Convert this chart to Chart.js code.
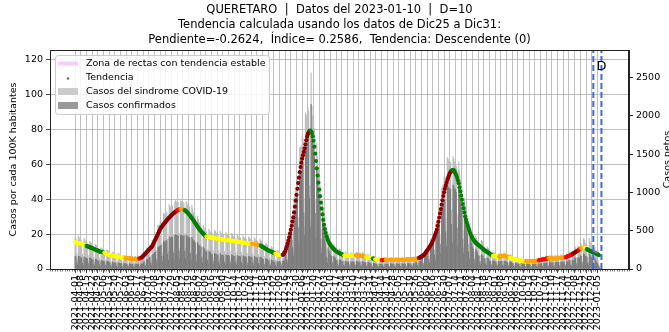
<!DOCTYPE html>
<html>
<head>
<meta charset="utf-8">
<script src="https://cdn.jsdelivr.net/npm/chart.js@4.4.1/dist/chart.umd.min.js"></script>
<style>
  html, body { margin: 0; padding: 0; background: #fff; overflow: hidden; }
  canvas { display: block; }
</style>
</head>
<body>
<canvas id="chart" width="669" height="332"></canvas>
<script>
// day 0 = 2021-04-01
const titleLines = [
  'QUERETARO  |  Datos del 2023-01-10  |  D=10',
  'Tendencia calculada usando los datos de Dic25 a Dic31:',
  'Pendiente=-0.2624,  Índice= 0.2586,  Tendencia: Descendente (0)'
];
const leftAxisTitle = 'Casos por cada 100K habitantes';
const rightAxisTitle = 'Casos netos';
const legendLabels = ['Zona de rectas con tendencia estable', 'Tendencia', 'Casos del sindrome COVID-19', 'Casos confirmados'];

const tickLabels = [
  '2021-04-01','2021-04-08','2021-04-15','2021-04-22','2021-04-29','2021-05-06','2021-05-13','2021-05-20','2021-05-27',
  '2021-06-03','2021-06-10','2021-06-17','2021-06-24','2021-07-01','2021-07-08','2021-07-15','2021-07-22','2021-07-29',
  '2021-08-05','2021-08-12','2021-08-19','2021-08-26','2021-09-02','2021-09-09','2021-09-16','2021-09-23','2021-09-30',
  '2021-10-07','2021-10-14','2021-10-21','2021-10-28','2021-11-04','2021-11-11','2021-11-18','2021-11-25','2021-12-02',
  '2021-12-09','2021-12-16','2021-12-23','2021-12-30','2022-01-06','2022-01-13','2022-01-20','2022-01-27','2022-02-03',
  '2022-02-10','2022-02-17','2022-02-24','2022-03-03','2022-03-10','2022-03-17','2022-03-24','2022-03-31','2022-04-07',
  '2022-04-14','2022-04-21','2022-04-28','2022-05-05','2022-05-12','2022-05-19','2022-05-26','2022-06-02','2022-06-09',
  '2022-06-16','2022-06-23','2022-06-30','2022-07-07','2022-07-14','2022-07-21','2022-07-28','2022-08-04','2022-08-11',
  '2022-08-18','2022-08-25','2022-09-01','2022-09-08','2022-09-15','2022-09-22','2022-09-29','2022-10-06','2022-10-13',
  '2022-10-20','2022-10-27','2022-11-03','2022-11-10','2022-11-17','2022-11-24','2022-12-01','2022-12-08','2022-12-15',
  '2022-12-22','2022-12-29','2023-01-05'
];

// tendencia (casos por 100K), un valor por dia
const trendValues = [
  15.3,15.2,15.1,15.0,14.9,14.8,14.7,14.6,14.4,14.2,14.0,13.9,13.7,13.5,
  13.3,13.1,12.9,12.7,12.5,12.3,12.1,11.9,11.7,11.5,11.3,11.1,10.9,10.7,10.5,10.3,10.1,9.9,9.8,9.7,9.6,9.5,
  9.3,9.1,8.9,8.7,8.5,8.3,8.1,8.0,7.9,7.8,7.7,7.6,7.5,7.4,7.3,7.2,7.1,7.0,6.9,6.8,6.7,6.6,6.5,6.4,6.3,6.3,
  6.2,6.2,6.1,6.1,6.0,6.0,6.0,5.9,5.9,5.9,5.8,5.8,5.8,5.8,5.8,5.8,5.9,
  6.0,6.1,6.3,
  6.6,7.0,7.5,8.0,8.5,9.0,9.5,10.0,10.5,11.0,11.5,12.0,12.5,13.1,14.0,15.0,16.0,17.0,18.0,19.0,20.0,21.0,22.0,
  22.9,23.7,24.4,25.0,25.6,26.2,26.8,27.4,28.0,28.5,29.0,29.5,30.0,30.5,31.0,31.4,31.8,32.2,32.6,33.0,33.3,
  33.6,33.9,34.1,34.3,
  34.4,34.4,34.3,34.2,34.0,
  33.8,33.5,33.1,32.6,32.1,31.6,31.0,30.4,29.8,29.2,28.5,27.8,27.1,26.4,25.7,25.0,24.3,23.6,
  23.0,22.4,21.8,21.2,20.7,20.2,19.7,19.2,18.8,
  18.6,18.5,18.4,18.3,18.2,18.1,18.0,17.9,17.9,17.8,17.7,17.6,17.6,17.5,17.4,17.3,17.3,17.2,17.1,17.0,17.0,16.9,
  16.8,16.7,16.7,16.6,16.5,16.5,16.4,16.3,16.3,16.2,
  16.1,16.0,16.0,15.9,15.8,15.7,15.7,15.6,15.5,15.4,15.4,15.3,15.2,15.1,15.1,15.0,14.9,14.9,14.8,14.7,14.7,14.6,14.6,14.5,
  14.4,14.3,14.3,14.2,14.1,14.0,14.0,13.9,13.8,13.7,13.6,
  13.4,13.1,12.8,12.5,12.2,11.9,11.6,11.3,11.0,10.7,10.5,10.3,10.1,9.9,9.7,9.5,9.3,9.1,
  8.9,8.7,8.5,8.3,8.1,8.0,7.9,7.9,8.0,
  8.1,8.5,9.2,10.2,11.5,13.0,14.6,16.3,18.2,20.3,22.5,24.8,27.2,29.6,32.5,35.8,39.2,42.6,46.0,49.3,
  52.5,55.6,58.5,61.0,63.3,65.3,67.2,69.3,71.6,73.9,75.9,77.4,78.5,79.3,
  79.4,79.0,78.0,76.2,73.6,70.2,66.2,62.0,57.8,53.6,49.6,45.6,41.8,38.1,34.6,31.3,28.2,25.4,22.9,20.7,18.8,
  17.3,16.1,15.1,14.3,13.6,13.0,12.4,11.9,11.4,11.0,10.6,10.2,9.9,9.6,9.3,9.0,8.8,8.6,8.4,8.2,8.0,
  7.9,7.8,7.7,7.7,7.6,7.6,7.6,7.6,7.6,7.7,7.7,7.7,7.8,7.8,
  7.8,7.8,7.8,7.8,7.8,7.7,7.7,7.6,7.5,7.4,7.3,7.2,7.0,
  6.9,6.8,6.7,6.6,6.5,6.4,6.3,6.2,
  6.0,5.9,5.7,
  5.6,5.5,5.4,5.3,5.2,5.2,5.1,5.1,
  5.1,5.1,5.1,5.2,5.2,
  5.2,5.2,5.2,5.3,5.3,5.3,5.3,5.3,5.3,5.3,5.3,5.3,5.3,5.3,5.3,5.3,5.3,5.3,5.3,5.3,
  5.3,5.3,5.3,5.3,5.3,5.4,5.4,5.4,5.4,5.4,5.5,5.5,5.5,5.6,5.6,5.7,5.7,5.8,5.9,6.0,6.1,
  6.3,6.5,6.8,7.1,7.4,7.7,8.1,8.6,9.2,9.8,10.5,11.2,11.9,12.6,13.3,14.1,14.9,16.0,17.2,18.5,19.8,
  21.1,22.5,24.8,27.1,29.5,31.9,34.4,36.9,39.4,41.9,44.0,46.0,47.8,49.5,51.1,52.5,53.7,54.8,55.7,56.3,
  56.7,56.8,56.6,56.0,55.0,53.8,52.4,50.8,49.2,46.9,44.5,42.1,39.7,37.3,34.9,32.5,30.2,28.3,26.6,25.0,
  23.5,22.1,20.8,19.6,18.6,17.7,16.9,16.2,15.6,15.1,14.6,14.2,13.9,13.5,13.1,12.7,12.3,11.9,11.5,11.1,
  10.7,10.4,10.1,9.8,9.5,9.2,8.9,8.5,8.1,7.8,
  7.6,7.5,7.4,7.3,7.2,7.2,7.1,7.1,
  7.1,7.1,7.2,7.3,7.4,7.5,7.5,7.5,7.4,7.3,7.1,6.9,6.7,
  6.5,6.3,6.1,5.9,5.8,5.6,5.5,5.4,5.3,5.2,5.1,5.0,4.9,4.8,4.8,4.7,4.7,4.6,4.6,4.6,
  4.5,4.5,4.5,4.5,4.5,4.5,4.5,4.5,4.5,4.6,4.6,4.6,4.7,4.7,4.8,4.9,
  5.0,5.1,5.2,5.3,5.4,5.5,5.6,5.7,5.8,5.9,6.0,6.1,
  6.1,6.1,6.1,6.0,6.0,6.0,6.0,6.0,6.0,6.1,6.1,6.1,6.2,6.2,6.3,6.3,6.4,6.4,6.5,6.6,6.7,
  6.8,7.0,7.2,7.4,7.6,7.8,8.0,8.2,8.5,
  8.8,9.1,9.4,9.7,10.0,10.3,10.6,
  10.9,11.2,11.5,
  11.7,11.9,12.0,12.0,
  12.0,11.9,11.7,
  11.4,11.1,10.8,10.6,10.4,10.2,10.0,9.8,9.6,9.4,9.2,9.0,8.8,8.5,8.2,7.9
];

// color de cada tramo de la tendencia: [clave, numero de dias]
const trendColorRuns = [
  ['Y',14],['G',22],['Y',26],['O',17],['R',3],['D',44],['R',4],['O',5],['G',27],['Y',56],['O',11],['G',18],
  ['Y',9],['D',34],['G',42],['Y',14],['O',13],['Y',8],['G',3],['Y',8],['R',5],['O',41],['D',41],['G',50],
  ['Y',8],['O',13],['Y',20],['O',16],['R',12],['O',21],['R',9],['D',7],['R',3],['O',4],['Y',3],['G',16]
];
const trendPalette = { Y: '#ffff00', G: '#008000', D: '#8b0000', R: '#ff0000', O: '#ffa500' };

// casos netos diarios (semanas de jueves a miercoles)
const sindromeBars = [
  410,395,205,120,430,410,395, 380,365,190,110,400,380,365, 345,335,175,100,360,345,335, 310,295,155,90,320,310,295,
  270,260,135,80,280,270,260, 245,235,120,70,255,245,235, 215,205,105,60,220,215,205, 195,185,95,55,200,195,185,
  175,170,90,50,180,175,170, 165,155,80,50,170,165,155, 160,150,80,45,165,160,150, 165,160,85,50,175,165,160,
  205,210,115,70,270,275,275, 300,300,165,100,375,380,395, 435,445,245,150,570,575,575, 625,620,335,200,730,715,700,
  750,735,390,230,840,820,800, 845,825,435,260,880,900,870, 880,870,465,275,890,880,860, 870,860,460,270,880,860,830,
  840,810,415,240,830,780,730, 740,690,350,200,690,645,605, 610,570,290,165,575,540,505, 515,485,255,145,520,495,475,
  490,470,245,145,510,490,470, 470,455,235,140,495,470,455, 455,440,230,135,475,455,440, 445,425,225,130,465,445,425,
  430,410,215,125,445,430,410, 415,400,210,120,435,415,400, 405,390,205,120,420,405,390, 390,375,195,115,410,390,375,
  375,360,190,110,390,375,360, 325,310,165,95,340,325,310, 280,270,140,80,295,280,270, 240,230,120,70,250,240,230,
  220,205,110,65,230,230,240, 280,300,180,115,465,495,530, 615,650,375,235,925,975,1025, 1165,1205,675,420,1585,1595,1600,
  1730,1710,920,555,2040,2015,1990, 2110,2060,1090,640,2560,2130,2000, 2010,1840,905,495,1645,1465,1300,
  1245,1095,520,275,890,770,665, 625,540,260,140,460,410,375, 370,340,170,95,325,300,280, 255,245,125,75,265,255,245,
  215,205,110,65,225,215,205, 205,200,105,60,215,205,200, 215,205,105,60,220,215,205, 210,195,100,60,220,210,195,
  185,180,95,55,195,185,180, 165,155,80,50,170,165,155, 140,135,70,40,150,140,135, 145,135,70,40,145,140,135,
  145,140,75,40,150,145,140, 145,140,70,45,150,145,140, 145,140,75,40,150,145,135, 150,140,75,45,155,150,140,
  155,145,75,45,160,155,145, 160,155,80,50,180,175,180, 195,195,105,65,245,250,255, 285,295,165,100,380,385,390,
  435,450,255,160,600,615,650, 740,775,435,275,1050,1075,1100, 1200,1205,655,395,1455,1435,1405,
  1400,1390,770,455,1470,1440,1400, 1380,1340,715,405,1400,1280,1165, 1150,1040,510,280,925,825,740,
  725,655,320,175,595,535,485, 485,445,220,125,430,400,370, 355,345,180,105,375,360,345, 275,265,140,80,290,275,265,
  215,205,105,60,220,215,205, 195,185,95,55,200,195,185, 205,195,105,60,215,205,195, 185,175,90,55,190,185,175,
  150,145,75,45,155,150,145, 130,125,65,40,135,130,125, 125,120,60,35,130,125,120, 120,115,60,35,130,120,115,
  130,125,65,40,135,130,125, 150,145,75,45,155,150,145, 170,160,85,50,175,170,160, 175,170,90,50,180,175,170,
  180,175,90,55,190,180,175, 190,185,95,55,200,190,185, 225,215,115,65,235,225,215, 290,280,145,85,300,290,280,
  350,330,165,95,400,380,340, 330,310,150,90,400,360,320, 300,260,130,75,280,220,180, 150,110,50,30
];
const confirmadosBars = [
  165,160,80,50,170,165,160, 150,145,75,45,160,150,145, 140,135,70,40,145,140,135, 125,120,60,35,130,125,120,
  110,105,55,30,110,110,105, 100,95,50,30,100,100,95, 85,80,45,25,90,85,80, 80,75,40,20,80,80,75,
  70,70,35,20,70,70,70, 65,60,35,20,70,65,60, 65,60,30,20,65,65,60, 65,65,35,20,70,65,65,
  90,95,50,30,120,125,125, 150,150,80,50,185,190,195, 215,220,120,75,285,285,290, 310,310,165,100,365,355,350,
  375,365,195,115,420,410,400, 420,410,215,130,440,450,435, 440,430,230,135,445,440,430, 435,430,230,135,440,430,415,
  420,405,205,120,415,390,365, 370,345,175,100,345,320,300, 305,285,145,80,285,270,250, 230,220,115,65,235,225,215,
  195,190,100,60,205,195,190, 190,180,95,55,200,190,180, 180,175,90,55,190,180,175, 180,170,90,50,185,180,170,
  170,165,85,50,180,170,165, 165,160,85,50,175,165,160, 160,155,80,45,170,160,155, 155,150,80,45,165,155,150,
  150,145,75,45,155,150,145, 130,125,65,40,135,130,125, 110,110,55,35,120,110,110, 95,90,50,30,100,95,90,
  100,90,50,30,105,105,110, 195,210,125,80,325,345,370, 460,490,280,175,695,730,770, 930,965,540,335,1270,1275,1280,
  1385,1370,735,445,1630,1610,1590, 1795,1750,925,545,2150,1810,1700, 1610,1470,725,395,1315,1170,1040,
  935,820,390,205,670,580,500, 375,325,155,85,275,245,225, 185,170,85,50,165,150,140, 115,110,55,35,120,115,110,
  95,95,50,30,100,95,95, 90,90,45,25,95,90,90, 95,90,50,30,100,95,90, 95,90,45,25,100,95,90,
  85,80,40,25,85,85,80, 75,70,35,20,75,75,70, 65,60,30,20,65,65,60, 65,60,30,20,65,65,60,
  65,65,35,20,70,65,65, 65,65,30,20,70,65,65, 65,65,35,20,70,65,60, 70,65,35,20,70,70,65,
  70,65,35,20,70,70,65, 90,85,45,25,100,95,100, 135,135,75,45,170,175,180, 215,220,125,75,285,290,295,
  325,340,190,120,450,460,490, 555,580,325,205,790,805,825, 900,905,490,295,1090,1075,1055,
  1050,1045,580,340,1100,1080,1050, 1035,1005,535,305,1050,960,875, 860,780,385,210,695,620,555,
  510,460,225,125,415,375,340, 290,265,130,75,260,240,220, 180,170,90,55,185,180,170, 140,130,70,40,145,140,130,
  105,100,55,30,110,105,100, 95,95,50,30,100,95,95, 100,100,50,30,105,100,100, 90,90,45,25,95,90,90,
  75,70,40,20,80,75,70, 65,65,35,20,70,65,65, 60,60,30,20,65,60,60, 60,55,30,15,65,60,55,
  65,60,35,20,70,65,60, 75,70,40,20,80,75,70, 85,80,40,25,90,85,80, 85,85,45,25,90,85,85,
  90,85,45,25,95,90,85, 95,90,50,30,100,95,90, 115,110,55,35,120,115,110, 145,140,70,40,150,145,140,
  175,165,85,50,200,190,170, 165,155,75,45,200,180,160, 150,130,65,35,140,110,90, 70,50,25,15
];

const zonaDays = [639, 645];
const zonaValues = [10.4, 9.7];
const markerDays = [639, 649];   // 2022-12-31 y 2023-01-10
const markerLabel = 'D';

const LEFT_MAX = 125.7;
const RIGHT_MAX = 2861;
const FONT = '"DejaVu Sans", sans-serif';

const trendColors = [];
trendColorRuns.forEach(([k, n]) => { for (let i = 0; i < n; i++) trendColors.push(trendPalette[k]); });

const overlay = {
  id: 'overlay',
  afterDatasetsDraw(chart) {
    const { ctx, chartArea: a, scales } = chart;
    ctx.save();
    // dashed markers
    ctx.strokeStyle = '#4169e1';
    ctx.lineWidth = 2;
    ctx.setLineDash([6, 3]);
    markerDays.forEach(d => {
      const x = scales.x.getPixelForValue(d);
      ctx.beginPath(); ctx.moveTo(x, a.bottom); ctx.lineTo(x, a.top); ctx.stroke();
    });
    ctx.setLineDash([]);
    ctx.fillStyle = '#000';
    ctx.font = '13px ' + FONT;
    ctx.textAlign = 'center'; ctx.textBaseline = 'top';
    ctx.fillText(markerLabel, scales.x.getPixelForValue(markerDays[1]), a.top + 10);

    // small ticks along the bottom axis
    ctx.strokeStyle = '#222'; ctx.lineWidth = 0.6;
    for (let d = scales.x.min; d <= scales.x.max; d += 3) {
      const x = Math.round(scales.x.getPixelForValue(d)) + 0.5;
      ctx.beginPath(); ctx.moveTo(x, a.bottom); ctx.lineTo(x, a.bottom + 2.5); ctx.stroke();
    }
    ctx.restore();
  },
  afterDraw(chart) {
    const { ctx, chartArea: a } = chart;
    ctx.save();
    // frame
    ctx.strokeStyle = '#222'; ctx.lineWidth = 1;
    ctx.strokeRect(a.left + 0.5, a.top + 0.5, a.right - a.left - 1, a.bottom - a.top);

    // title
    ctx.fillStyle = '#000';
    ctx.font = '11.5px ' + FONT;
    ctx.textAlign = 'center'; ctx.textBaseline = 'middle';
    const cx = (a.left + a.right) / 2;
    titleLines.forEach((t, i) => ctx.fillText(t, cx, 10 + i * 15));

    // right axis title (bottom to top)
    ctx.save();
    ctx.translate(663, (a.top + a.bottom) / 2);
    ctx.rotate(-Math.PI / 2);
    ctx.font = '9.5px ' + FONT;
    ctx.textBaseline = 'top';
    ctx.fillText(rightAxisTitle, 0, 0);
    ctx.restore();

    // legend
    const lx = 55.5, ly = 55.5, lw = 214, lh = 59;
    ctx.beginPath();
    ctx.roundRect(lx, ly, lw, lh, 3);
    ctx.fillStyle = 'rgba(255,255,255,0.85)';
    ctx.fill();
    ctx.strokeStyle = '#cccccc'; ctx.lineWidth = 1;
    ctx.stroke();
    const rows = [63.5, 77.5, 91.5, 105.5];
    ctx.strokeStyle = 'rgba(238,130,238,0.4)'; ctx.lineWidth = 4;
    ctx.beginPath(); ctx.moveTo(58, rows[0]); ctx.lineTo(78, rows[0]); ctx.stroke();
    ctx.fillStyle = '#666';
    ctx.beginPath(); ctx.arc(68, rows[1] + 1, 1.2, 0, Math.PI * 2); ctx.fill();
    ctx.fillStyle = '#cccccc'; ctx.fillRect(58, rows[2] - 3.5, 20, 7);
    ctx.fillStyle = '#999999'; ctx.fillRect(58, rows[3] - 3.5, 20, 7);
    ctx.fillStyle = '#000';
    ctx.font = '9.5px ' + FONT;
    ctx.textAlign = 'left'; ctx.textBaseline = 'middle';
    legendLabels.forEach((t, i) => ctx.fillText(t, 86, rows[i]));
    ctx.restore();
  }
};

new Chart(document.getElementById('chart'), {
  type: 'bar',
  data: {
    datasets: [
      {
        type: 'line',
        data: zonaDays.map((d, i) => ({ x: d, y: zonaValues[i] })),
        borderColor: 'rgba(238,130,238,0.45)',
        borderWidth: 3,
        pointRadius: 0,
        yAxisID: 'y',
        order: -1
      },
      {
        type: 'line',
        data: trendValues.map((v, i) => ({ x: i, y: v })),
        showLine: false,
        pointRadius: 2.1,
        pointBorderWidth: 0,
        pointBackgroundColor: trendColors,
        yAxisID: 'y',
        order: 0
      },
      {
        data: confirmadosBars.map((v, i) => ({ x: i, y: v })),
        backgroundColor: '#7c7c7c',
        barThickness: 0.5,
        grouped: false,
        yAxisID: 'y2',
        order: 2
      },
      {
        data: sindromeBars.map((v, i) => ({ x: i, y: v })),
        backgroundColor: '#bcbcbc',
        barThickness: 0.5,
        grouped: false,
        yAxisID: 'y2',
        order: 3
      }
    ]
  },
  options: {
    responsive: false,
    devicePixelRatio: 1,
    animation: false,
    events: [],
    layout: { padding: { top: 50, left: 0, right: 0, bottom: 0 } },
    plugins: { legend: { display: false }, title: { display: false }, tooltip: { enabled: false } },
    scales: {
      x: {
        type: 'linear',
        min: -31,
        max: 683,
        offset: false,
        grid: { color: '#b0b0b0', lineWidth: 0.8, tickLength: 4, offset: false, tickColor: '#222' },
        border: { color: '#222' },
        ticks: {
          autoSkip: false,
          minRotation: 90,
          maxRotation: 90,
          padding: 2,
          color: '#000',
          font: { family: FONT, size: 9.5 },
          callback: (v, i) => tickLabels[i]
        },
        afterBuildTicks: s => { s.ticks = tickLabels.map((_, i) => ({ value: i * 7 })); },
        afterFit: s => { s.height = 63; }
      },
      y: {
        position: 'left',
        min: 0,
        max: LEFT_MAX,
        grid: { color: '#b0b0b0', lineWidth: 0.8, tickLength: 4, tickColor: '#222' },
        border: { color: '#222' },
        ticks: { color: '#000', padding: 3, font: { family: FONT, size: 9.5 }, callback: v => String(v) },
        title: { display: true, text: leftAxisTitle, color: '#000', font: { family: FONT, size: 9.5 }, padding: { top: 8, bottom: 0 } },
        afterBuildTicks: s => { s.ticks = [0, 20, 40, 60, 80, 100, 120].map(v => ({ value: v })); },
        afterFit: s => { s.width = 50; }
      },
      y2: {
        position: 'right',
        min: 0,
        max: RIGHT_MAX,
        grid: { drawOnChartArea: false, tickLength: 4, tickColor: '#222' },
        border: { color: '#222' },
        ticks: { color: '#000', padding: 3, font: { family: FONT, size: 9.5 }, callback: v => String(v) },
        afterBuildTicks: s => { s.ticks = [0, 500, 1000, 1500, 2000, 2500].map(v => ({ value: v })); },
        afterFit: s => { s.width = 40; }
      }
    }
  },
  plugins: [overlay]
});
</script>
</body>
</html>
